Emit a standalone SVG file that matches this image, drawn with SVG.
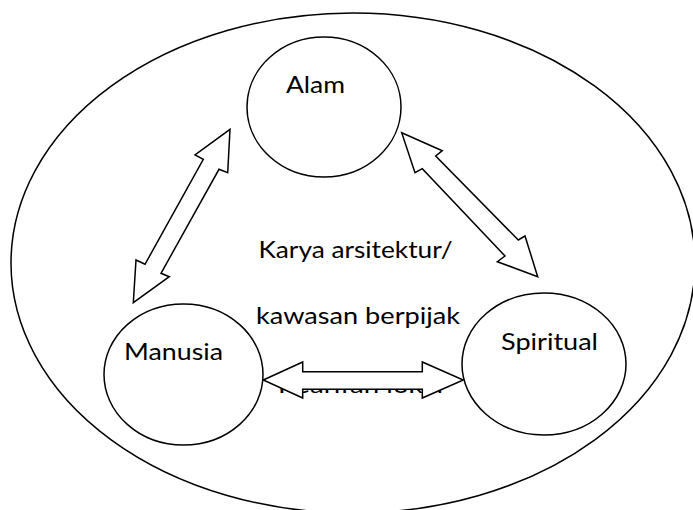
<svg xmlns="http://www.w3.org/2000/svg" width="693" height="510" viewBox="0 0 693 510">
<style>
.sh{fill:#fff;stroke:#000;stroke-width:1.5}
.ar{fill:#fff;stroke:#000;stroke-width:1.5;stroke-linejoin:miter}
.t{font-family:Lato,"Open Sans","Liberation Sans",sans-serif;font-size:24px;fill:#000}
</style>
<rect width="693" height="510" fill="#fff"/>
<g id="kawasan">
<ellipse class="sh" cx="353" cy="263" rx="342" ry="250"/>
</g>
<g id="alam">
<ellipse class="sh" cx="324" cy="107" rx="77" ry="70"/>
<text class="t" x="286" y="93" textLength="59" lengthAdjust="spacingAndGlyphs">Alam</text>
</g>
<g id="manusia">
<ellipse class="sh" cx="183.5" cy="374.5" rx="79.5" ry="70.5"/>
<text class="t" x="124" y="360" textLength="99" lengthAdjust="spacingAndGlyphs">Manusia</text>
</g>
<g id="spiritual">
<ellipse class="sh" cx="544" cy="364" rx="82" ry="71"/>
<text class="t" x="501" y="350" textLength="97" lengthAdjust="spacingAndGlyphs">Spiritual</text>
</g>
<g id="center-label">
<text class="t" x="258.5" y="258" textLength="194" lengthAdjust="spacingAndGlyphs">Karya arsitektur/</text>
<text class="t" x="256" y="324" textLength="204" lengthAdjust="spacingAndGlyphs">kawasan berpijak</text>
<text class="t" x="278" y="393" textLength="165" lengthAdjust="spacingAndGlyphs">Kearifan lokal</text>
</g>
<g id="connectors">
<polygon class="ar" points="230,129.3 227.7,172.7 219,169.3 161,273.3 169.3,276.7 133.3,302.7 136,260 145,264.3 203.3,159.3 195,155"/>
<polygon class="ar" points="401.7,132.7 442.3,150.7 435.7,156 518.3,240 525,236 537.7,276.7 497.3,261.7 505,256 422.3,168.7 415,172.7"/>
<polygon class="ar" points="263.3,380 302.7,362 302.7,371.7 422.3,371.7 422.3,362 463.3,380 422.3,398 422.3,389.3 302.7,389.3 302.7,398"/>
</g>
</svg>
